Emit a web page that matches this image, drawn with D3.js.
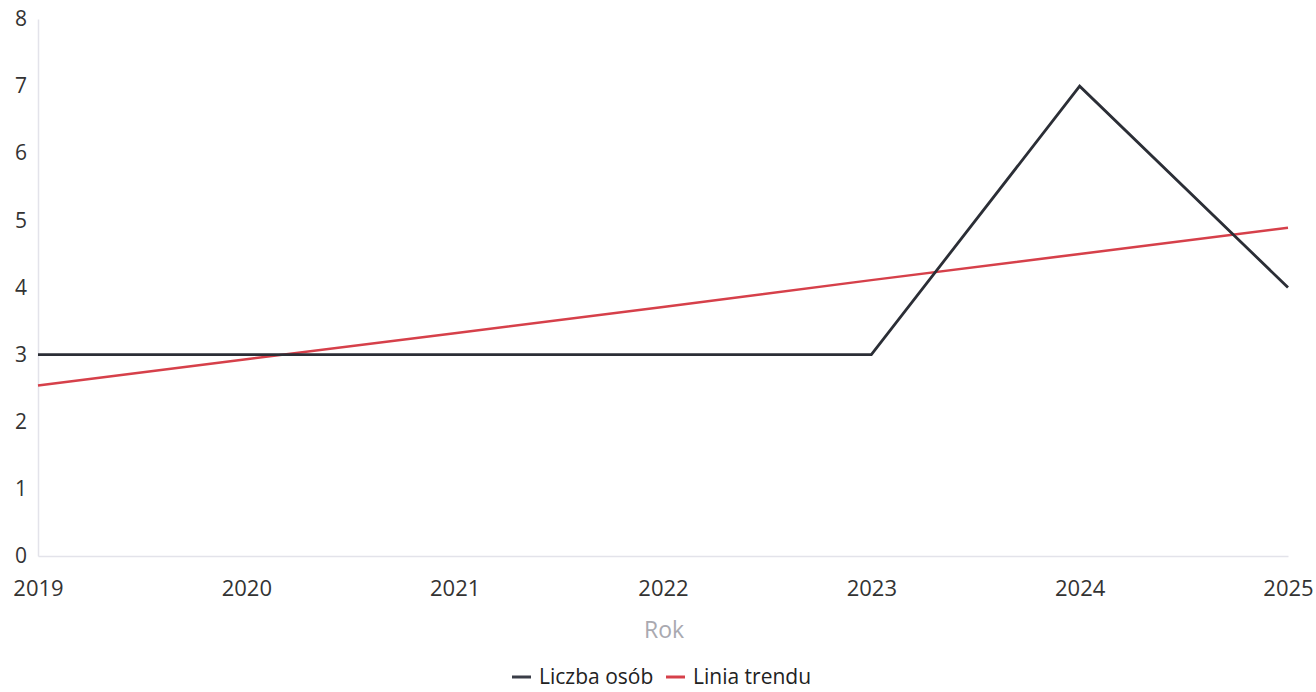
<!DOCTYPE html>
<html>
<head>
  <script src="https://cdn.jsdelivr.net/npm/d3@7"></script>
  <style>
    body { margin: 0; background: #fff; font-family: 'Open Sans', sans-serif; }
  </style>
</head>
<body>
  <svg width="1316" height="692"></svg>
<script>
  const years = [2019, 2020, 2021, 2022, 2023, 2024, 2025];
  const people = [3, 3, 3, 3, 3, 7, 4];
  const trend = [2.54, 2.93, 3.32, 3.71, 4.11, 4.50, 4.89];
  const yTicks = [0, 1, 2, 3, 4, 5, 6, 7, 8];

  const plotLeft = 38, plotRight = 1288, plotTop = 19, plotBottom = 556;

  const svg = d3.select('svg');

  const xScale = d3.scaleLinear().domain([2019, 2025]).range([plotLeft, plotRight]);
  const yScale = d3.scaleLinear().domain([0, 8]).range([plotBottom, plotTop]);

  // axes
  const yAxis = svg.append('g')
    .attr('transform', `translate(${plotLeft}, 0)`)
    .call(d3.axisLeft(yScale).tickValues(yTicks).tickSize(0).tickPadding(11));
  yAxis.select('.domain').attr('stroke', '#e3e3ea').attr('stroke-width', 1.5);
  yAxis.selectAll('text')
    .attr('font-family', "'Open Sans', sans-serif")
    .attr('font-size', 21).attr('fill', '#333');

  const xAxis = svg.append('g')
    .attr('transform', `translate(0, ${plotBottom})`)
    .call(d3.axisBottom(xScale).tickValues(years).tickFormat(d3.format('d')).tickSize(0).tickPadding(24));
  xAxis.select('.domain').attr('stroke', '#e3e3ea').attr('stroke-width', 1.5);
  xAxis.selectAll('text')
    .attr('font-family', "'Open Sans', sans-serif")
    .attr('font-size', 22).attr('fill', '#333');

  svg.append('text')
    .attr('x', (plotLeft + plotRight) / 2 + 1)
    .attr('y', 638)
    .attr('text-anchor', 'middle')
    .attr('font-size', 23)
    .attr('fill', '#a9a9b0')
    .text('Rok');

  // lines
  const line = d3.line()
    .x((d, i) => xScale(years[i]))
    .y(d => yScale(d));

  svg.append('path')
    .datum(trend)
    .attr('fill', 'none')
    .attr('stroke', '#d6404a')
    .attr('stroke-width', 2.5)
    .attr('d', line);

  svg.append('path')
    .datum(people)
    .attr('fill', 'none')
    .attr('stroke', '#2b2e36')
    .attr('stroke-width', 2.8)
    .attr('d', line);

  // legend
  const legend = [
    { name: 'Liczba osób', color: '#3a3d47', x: 512 },
    { name: 'Linia trendu', color: '#d6404a', x: 666 }
  ];
  const lg = svg.append('g').selectAll('g').data(legend).enter().append('g')
    .attr('transform', d => `translate(${d.x}, 684)`);
  lg.append('line')
    .attr('x1', 0).attr('x2', 19)
    .attr('y1', -7).attr('y2', -7)
    .attr('stroke', d => d.color)
    .attr('stroke-width', 3);
  lg.append('text')
    .attr('x', 27)
    .attr('y', 0)
    .attr('font-size', 21)
    .attr('fill', '#222')
    .text(d => d.name);
</script>
</body>
</html>
